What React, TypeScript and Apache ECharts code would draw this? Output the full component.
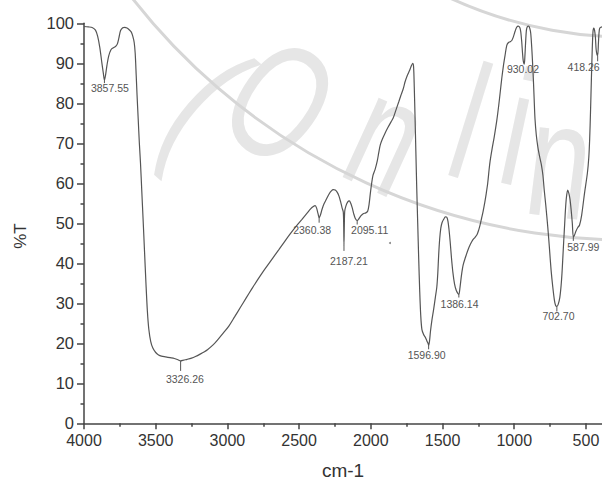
import React, { useEffect, useRef } from "react";
import * as echarts from "echarts";

// FTIR spectrum: wavenumber (cm-1) vs %T
const wavenumbers = [
  4000, 3970, 3940, 3920, 3905, 3890, 3875, 3865, 3857.55, 3850, 3840, 3828, 3812, 3795, 3780, 3768, 3757, 3745, 3730, 3715,
  3700, 3685, 3670, 3660, 3650, 3643, 3636, 3630, 3622, 3614, 3606, 3597, 3588, 3578, 3568, 3558, 3548, 3535, 3520, 3500,
  3480, 3460, 3430, 3400, 3370, 3345, 3326.26, 3305, 3280, 3250, 3223, 3190, 3160, 3139, 3100, 3065, 3028, 2990, 2950, 2909,
  2870, 2830, 2791, 2750, 2710, 2680, 2640, 2600, 2561, 2520, 2480, 2443, 2420, 2401, 2388, 2378, 2368, 2360.38, 2352, 2340,
  2327, 2310, 2290, 2275, 2262, 2248, 2235, 2222, 2210, 2200, 2192, 2189, 2187.21, 2185, 2182, 2174, 2162, 2150, 2140, 2130,
  2120, 2108, 2095.11, 2082, 2068, 2053, 2035, 2022, 2012, 2004, 1995, 1985, 1970, 1955, 1944, 1934, 1920, 1900, 1880, 1860,
  1844, 1825, 1805, 1790, 1775, 1760, 1745, 1730, 1718, 1708, 1702, 1697, 1692, 1686, 1680, 1673, 1666, 1659, 1652, 1644,
  1632, 1620, 1609, 1600, 1596.9, 1591, 1584, 1574, 1562, 1550, 1540, 1533, 1527, 1520, 1512, 1503, 1492, 1480, 1470, 1462,
  1455, 1447, 1438, 1428, 1416, 1404, 1392, 1386.14, 1378, 1368, 1356, 1340, 1322, 1305, 1290, 1273, 1259, 1248, 1238, 1228,
  1217, 1205, 1195, 1185, 1175, 1168, 1155, 1140, 1122, 1108, 1097, 1087, 1075, 1064, 1052, 1040, 1028, 1017, 1006, 994,
  983, 972, 962, 955, 948, 942, 937, 930.02, 926, 921, 915, 908, 900, 892, 885, 878, 872, 867, 861, 855,
  846, 835, 822, 810, 800, 790, 780, 766, 755, 743, 731, 720, 712, 702.7, 693, 682, 673, 667, 662, 655,
  648, 643, 636, 627, 619, 611, 603, 595, 587.99, 580, 570, 556, 545, 530, 510, 490, 480, 474, 468, 462,
  456, 451, 446, 440, 434, 429, 423, 418, 413, 409, 404, 396, 388,
];
const transmittance = [
  99.2, 99.1, 98.9, 98.3, 96.8, 94, 90, 87.5, 85.8, 87, 89.5, 91.8, 93.4, 93.9, 94.2, 94.8, 96.3, 98.2, 98.9, 99,
  98.8, 98.4, 97.8, 96.8, 95.2, 92.5, 87, 82, 76, 70, 65, 58, 51, 43, 35, 28, 23.5, 20.5, 18.8, 17.7,
  17.1, 16.8, 16.6, 16.4, 16.2, 15.9, 15.6, 15.8, 16, 16.3, 16.7, 17.3, 17.9, 18.4, 19.6, 21, 22.6, 24.3, 26.6, 29,
  31.3, 33.6, 35.8, 38, 40, 41.5, 43.5, 45.5, 47.4, 49.3, 51, 52.6, 53.6, 54.2, 54.4, 53.8, 52.4, 51.4, 52, 53.5,
  54.8, 56, 57.4, 58.1, 58.4, 58.3, 57.8, 56.8, 55.3, 53.8, 52.8, 49, 44.6, 49, 53, 54.3, 55.3, 55.6, 55, 53.9,
  52.5, 51.2, 50.7, 51.2, 51.9, 52.4, 52.6, 53, 54.8, 57.3, 59.8, 62, 63.5, 65.6, 67.8, 69.6, 71, 72.6, 74, 75.3,
  76.3, 78.3, 80.4, 82, 83.5, 85.5, 87, 88.2, 89.3, 90, 89.2, 84, 77, 68, 59, 50, 41, 33, 27, 23.5,
  22.2, 21.5, 20.6, 19.9, 19.5, 20.5, 23, 25.8, 28.5, 31.5, 34, 37.5, 42, 46, 48.8, 50.2, 51, 51.6, 51.5, 50.5,
  48.5, 45.5, 41.5, 37.8, 34.8, 33.2, 32.4, 32.2, 34, 37, 39.6, 41.5, 43.4, 44.8, 45.8, 46.5, 47.2, 48.3, 49.6, 51.2,
  53, 55.3, 57.5, 60, 63.5, 65.6, 68.5, 71.5, 75.6, 79.5, 83, 86.2, 89.5, 92, 94.5, 95.2, 95.4, 95.7, 96.6, 98,
  99, 99.3, 99, 98, 95.5, 92.5, 90.6, 89.8, 91.5, 95, 98.3, 99.2, 99.3, 98.8, 97.5, 94, 90, 86.3, 81, 76,
  72, 69, 66.5, 64.5, 62, 58, 54.5, 49, 44, 38.3, 34, 30.8, 29.5, 29.2, 29.8, 31.5, 34.5, 37.5, 40.8, 45.5,
  50, 53.3, 56.5, 58.3, 57.5, 56, 53.3, 50, 46.6, 47, 48, 49, 49.5, 52, 57.5, 62.5, 66.5, 71, 78, 86,
  93.5, 97.8, 98.8, 98.3, 96.5, 93.5, 92.2, 92, 95, 97.5, 98.8, 99, 99.1,
];

// Peak annotations
const peakWavenumbers = [3857.55, 3326.26, 2360.38, 2187.21, 2095.11, 1596.9, 1386.14, 930.02, 702.7, 587.99, 418.26];
const peakValues = [85.8, 15.6, 51.4, 44.6, 50.7, 19.5, 32.2, 89.8, 29.2, 46.6, 92];
const peakLabels = ["3857.55", "3326.26", "2360.38", "2187.21", "2095.11", "1596.90", "1386.14", "930.02", "702.70", "587.99", "418.26"];

// Axis ticks
const xTickValues = [4000, 3500, 3000, 2500, 2000, 1500, 1000, 500];
const xMinorTickValues = [3750, 3250, 2750, 2250, 1750, 1250, 750];

// Label placement (pixels relative to the peak point) — styling only
const labelOffsets: number[][] = [
  [5.5, 7.5], [4.3, 18], [-7, 12.5], [5, 16], [12.5, 9.5], [-2, 10], [0.7, 9], [-1.3, 4.4], [1.6, 9.5], [10, 10], [-14, 12],
];
const markerLengths = [3, 10, 5, 6, 4, 4, 3, 0, 5, 4, 6];

// Faint watermark letters placed around a circle
const wmLetters = ["(", "O", "n", "l", "i", "n"];

export default function App() {
  const ref = useRef<HTMLDivElement>(null);

  useEffect(() => {
    document.body.style.margin = "0";
    const chart = echarts.init(ref.current!, null, { renderer: "svg" });
    const font = "'Liberation Sans', Arial, sans-serif";
    const axisColor = "#444";

    const cx = 628, cy = -389;
    const wmPos = [
      [207, 100], [280, 102], [388, 135], [470, 122], [518, 128], [560, 160],
    ];
    const wmGraphics: any[] = wmLetters.map((ch, i) => {
      const [x, y] = wmPos[i];
      const theta = Math.atan2(y - cy, x - cx);
      return {
        type: "text",
        x, y,
        rotation: -(theta - Math.PI / 2),
        scaleX: 0.69,
        z: -10,
        silent: true,
        style: {
          text: ch,
          fontSize: 165,
          fontFamily: font,
          fill: "#e6e6e6",
          align: "center",
          verticalAlign: "middle",
        },
      };
    });

    const option: any = {
      animation: false,
      backgroundColor: "#fff",
      grid: { left: 84, right: 0, top: 23.3, bottom: 60.7, containLabel: false, outerBoundsMode: "none" },
      graphic: [
        {
          type: "arc", z: -9, silent: true,
          shape: { cx, cy, r: 629, startAngle: 1.45, endAngle: 2.55 },
          style: { stroke: "#d6d6d6", lineWidth: 3, fill: "none" },
        },
        {
          type: "arc", z: -9, silent: true,
          shape: { cx, cy, r: 426, startAngle: 1.4, endAngle: 2.1 },
          style: { stroke: "#d6d6d6", lineWidth: 3, fill: "none" },
        },
        ...wmGraphics,
        {
          type: "text", x: 20, y: 236, rotation: Math.PI / 2,
          style: { text: "%T", fontSize: 17, fontFamily: font, fill: "#333", align: "center", verticalAlign: "middle" },
        },
        { type: "circle", shape: { cx: 390, cy: 243, r: 1 }, style: { fill: "#888" } },
      ],
      xAxis: [
        {
          type: "value",
          inverse: true,
          min: 388,
          max: 4000,
          name: "cm-1",
          nameLocation: "middle",
          nameGap: 38,
          nameTextStyle: { fontSize: 19, fontFamily: font, color: "#333" },
          axisLine: { show: true, onZero: false, lineStyle: { color: axisColor, width: 1.5 } },
          axisTick: { show: true, length: 6, customValues: xTickValues, lineStyle: { color: axisColor, width: 1.5 } },
          axisLabel: {
            customValues: xTickValues,
            formatter: (v: number) => String(v),
            fontSize: 16,
            fontFamily: font,
            color: "#333",
            margin: 9,
          },
          splitLine: { show: false },
        },
        {
          type: "value",
          inverse: true,
          min: 388,
          max: 4000,
          position: "bottom",
          axisLine: { show: false },
          axisTick: { show: true, length: 3.5, customValues: xMinorTickValues, lineStyle: { color: axisColor, width: 1.5 } },
          axisLabel: { show: false },
          splitLine: { show: false },
        },
      ],
      yAxis: {
        type: "value",
        min: 0,
        max: 100,
        interval: 10,
        axisLine: { show: true, onZero: false, lineStyle: { color: axisColor, width: 1.5 } },
        axisTick: { show: true, length: 7, lineStyle: { color: axisColor, width: 1.5 } },
        minorTick: { show: true, splitNumber: 2, length: 3.5, lineStyle: { color: axisColor, width: 1.5 } },
        axisLabel: { fontSize: 16.5, fontFamily: font, color: "#333", margin: 10 },
        splitLine: { show: false },
      },
      series: [
        {
          type: "line",
          xAxisIndex: 0,
          data: wavenumbers.map((w, i) => [w, transmittance[i]]),
          showSymbol: false,
          smooth: 0.3,
          lineStyle: { color: "#555", width: 1.2 },
          z: 3,
        },
        {
          type: "custom",
          xAxisIndex: 0,
          clip: false,
          z: 4,
          data: peakWavenumbers.map((w, i) => [w, peakValues[i]]),
          renderItem: (params: any, api: any) => {
            const i = params.dataIndex;
            const p = api.coord([api.value(0), api.value(1)]);
            const [dx, dy] = labelOffsets[i];
            const children: any[] = [];
            if (markerLengths[i] > 0) {
              children.push({
                type: "line",
                shape: { x1: p[0], y1: p[1], x2: p[0], y2: p[1] + markerLengths[i] },
                style: { stroke: "#555", lineWidth: 1 },
              });
            }
            children.push({
              type: "text",
              style: {
                text: peakLabels[i],
                x: p[0] + dx,
                y: p[1] + dy,
                fill: "#555",
                fontSize: 10.5,
                fontFamily: font,
                align: "center",
                verticalAlign: "middle",
              },
            });
            return { type: "group", children };
          },
        },
      ],
    };
    chart.setOption(option);
    return () => chart.dispose();
  }, []);

  return <div ref={ref} style={{ position: "absolute", left: 0, top: 0, width: 602, height: 484 }} />;
}
